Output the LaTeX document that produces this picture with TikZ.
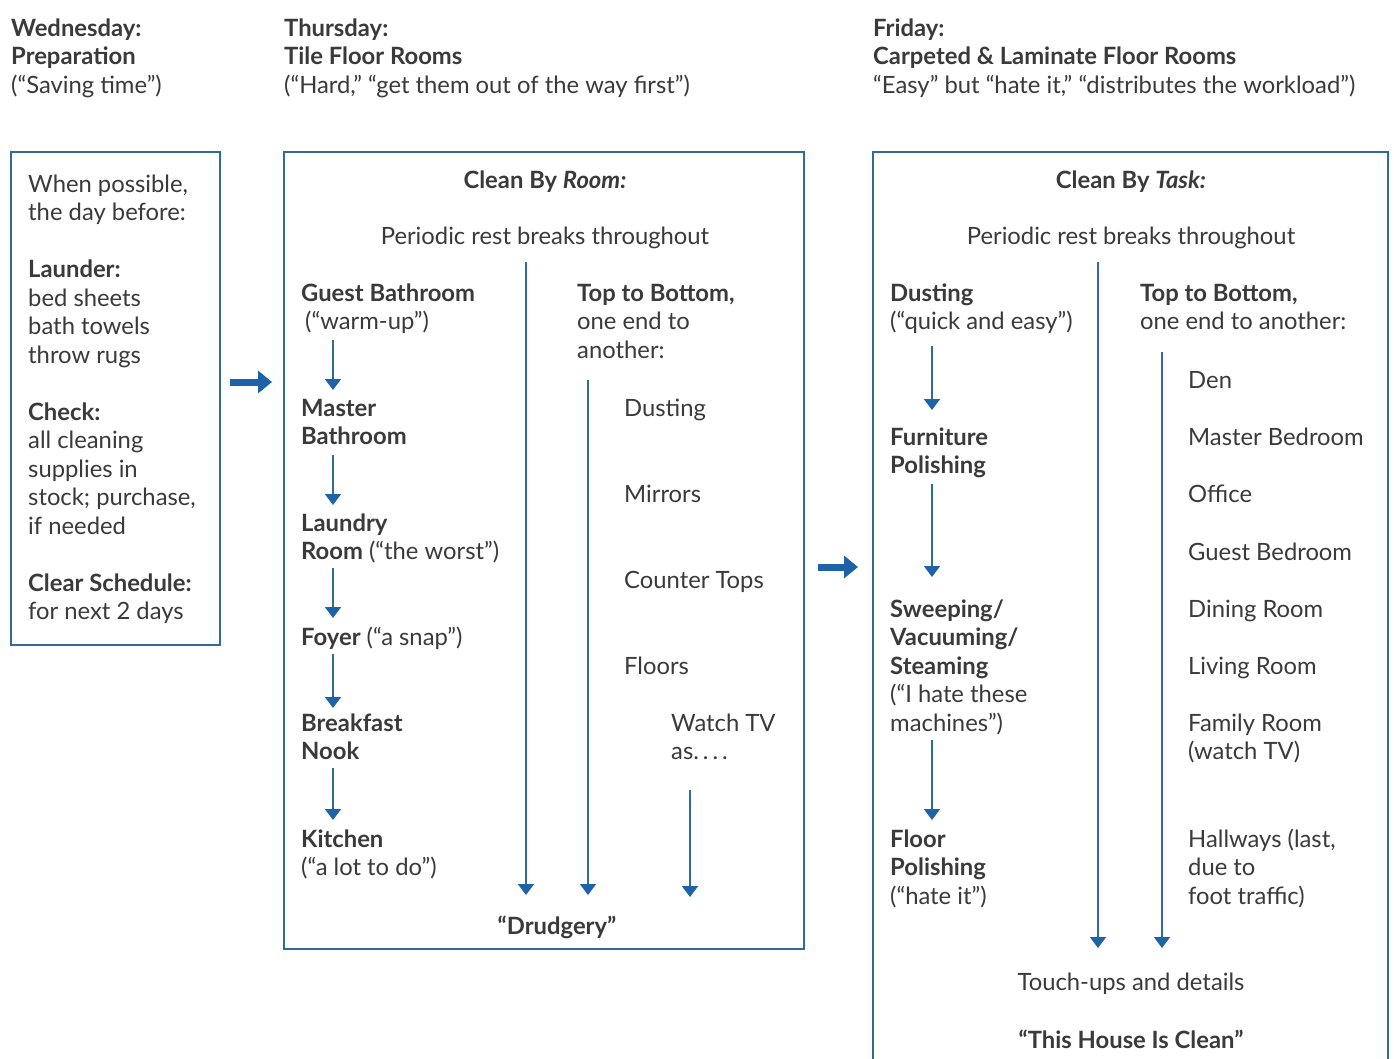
\documentclass[tikz,border=0pt]{standalone}
\usepackage{fontspec}
\setmainfont{Lato}
\usetikzlibrary{arrows.meta}
\definecolor{ink}{HTML}{3A3A3A}
\definecolor{frame}{HTML}{2F6C97}
\definecolor{flow}{HTML}{1E62A8}
\newcommand{\bodyfont}{\fontsize{23.8}{28.5}\selectfont}
% stacked lines whose baseline is the first line
\newcommand{\stack}[1]{\begin{tabular}[t]{@{}l@{}}#1\end{tabular}}
\tikzset{
  txt/.style={anchor=base west, inner sep=0pt, font=\bodyfont, text=ink},
  ctr/.style={anchor=base, inner sep=0pt, align=center, font=\bodyfont, text=ink},
  panel/.style={draw=frame, line width=1.8pt},
  flowline/.style={draw=frame, line width=1.8pt, -{Triangle[width=16pt,length=11pt,color=flow]}},
  bigarrow/.style={draw=flow, line width=7pt, -{Triangle[width=22pt,length=14pt]}},
}
\begin{document}
\begin{tikzpicture}[x=1pt,y=-1pt]
\useasboundingbox[fill=white] (0,0) rectangle (1394,1058);
\clip (0,0) rectangle (1394,1058);

% column headings
\node[txt] (hwed) at (11,36) {\stack{\textbf{Wednesday:}\\\textbf{Preparation}\\(“Saving time”)}};
\node[txt] (hthu) at (284,36) {\stack{\textbf{Thursday:}\\\textbf{Tile Floor Rooms}\\(“Hard,” “get them out of the way first”)}};
\node[txt] (hfri) at (873,36) {\stack{\textbf{Friday:}\\\textbf{Carpeted \& Laminate Floor Rooms}\\“Easy” but “hate it,” “distributes the workload”)}};

% panels
\path[panel] (11,152) rectangle (220,645);
\path[panel] (284,152) rectangle (804,949);
\path[panel] (873,152) rectangle (1388,1080);
\coordinate (wedE) at (220,382);
\coordinate (thuW) at (284,382);
\coordinate (thuE) at (804,567);
\coordinate (friW) at (873,567);

% Wednesday
\node[txt] (wedtext) at (28,192) {\stack{When possible,\\the day before:\\ \\
\textbf{Launder:}\\bed sheets\\bath towels\\throw rugs\\ \\
\textbf{Check:}\\all cleaning\\supplies in\\stock; purchase,\\if needed\\ \\
\textbf{Clear Schedule:}\\for next 2 days}};

\draw[bigarrow] ([xshift=10pt]wedE) -- ([xshift=-12pt]thuW);
\draw[bigarrow] ([xshift=14pt]thuE) -- ([xshift=-15pt]friW);

% Thursday: clean by room
\node[ctr] (thutitle) at (545,188) {\textbf{Clean By \textit{Room:}}};
\node[ctr] (thurest) at (545,244) {Periodic rest breaks throughout};
\node[txt] (gbath) at (301,301) {\stack{\textbf{Guest Bathroom}\\\hspace{4pt}(“warm-up”)}};
\node[txt] (mbath) at (301,416) {\stack{\textbf{Master}\\\textbf{Bathroom}}};
\node[txt] (laund) at (301,531) {\stack{\textbf{Laundry}\\\textbf{Room} (“the worst”)}};
\node[txt] (foyer) at (301,645) {\textbf{Foyer} (“a snap”)};
\node[txt] (nook) at (301,731) {\stack{\textbf{Breakfast}\\\textbf{Nook}}};
\node[txt] (kitch) at (301,847) {\stack{\textbf{Kitchen}\\(“a lot to do”)}};
\node[txt] (thutop) at (577,301) {\stack{\textbf{Top to Bottom,}\\one end to\\another:}};
\node[txt] (tdust) at (624,416) {Dusting};
\node[txt] (tmirr) at (624,502) {Mirrors};
\node[txt] (tcount) at (624,588) {Counter Tops};
\node[txt] (tfloor) at (624,674) {Floors};
\node[txt] (ttv) at (671,731) {\stack{Watch TV\\as.\,.\,.\,.}};
\node[ctr] (drudge) at (557,934) {\textbf{“Drudgery”}};

\coordinate (r1a) at (333,340); \coordinate (r1b) at (333,390);
\coordinate (r2a) at (333,455); \coordinate (r2b) at (333,505);
\coordinate (r3a) at (333,568); \coordinate (r3b) at (333,618);
\coordinate (r4a) at (333,654); \coordinate (r4b) at (333,708);
\coordinate (r5a) at (333,768); \coordinate (r5b) at (333,820);
\coordinate (ra) at (526,262); \coordinate (rb) at (526,895);
\coordinate (sa) at (588,380); \coordinate (sb) at (588,895);
\coordinate (ta) at (690,790); \coordinate (tb) at (690,897);
\foreach \p in {r1,r2,r3,r4,r5,r,s,t} \draw[flowline] (\p a) -- (\p b);

% Friday: clean by task
\node[ctr] (frititle) at (1131,188) {\textbf{Clean By \textit{Task:}}};
\node[ctr] (frirest) at (1131,244) {Periodic rest breaks throughout};
\node[txt] (fdust) at (890,301) {\stack{\textbf{Dusting}\\(“quick and easy”)}};
\node[txt] (fpol) at (890,445) {\stack{\textbf{Furniture}\\\textbf{Polishing}}};
\node[txt] (fsweep) at (890,617) {\stack{\textbf{Sweeping/}\\\textbf{Vacuuming/}\\\textbf{Steaming}\\(“I hate these\\machines”)}};
\node[txt] (ffloor) at (890,847) {\stack{\textbf{Floor}\\\textbf{Polishing}\\(“hate it”)}};
\node[txt] (fritop) at (1140,301) {\stack{\textbf{Top to Bottom,}\\one end to another:}};
\node[txt] (den) at (1188,388) {Den};
\node[txt] (mbed) at (1188,445) {Master Bedroom};
\node[txt] (office) at (1188,502) {Office};
\node[txt] (gbed) at (1188,560) {Guest Bedroom};
\node[txt] (dining) at (1188,617) {Dining Room};
\node[txt] (living) at (1188,674) {Living Room};
\node[txt] (family) at (1188,731) {\stack{Family Room\\(watch TV)}};
\node[txt] (hall) at (1188,847) {\stack{Hallways (last,\\due to\\foot traffic)}};
\node[ctr] (touch) at (1131,990) {Touch-ups and details};
\node[ctr] (clean) at (1131,1048) {\textbf{“This House Is Clean”}};

\coordinate (f1a) at (932,346); \coordinate (f1b) at (932,410);
\coordinate (f2a) at (932,484); \coordinate (f2b) at (932,577);
\coordinate (f3a) at (932,740); \coordinate (f3b) at (932,820);
\coordinate (ua) at (1098,262); \coordinate (ub) at (1098,948);
\coordinate (va) at (1162,352); \coordinate (vb) at (1162,948);
\foreach \p in {f1,f2,f3,u,v} \draw[flowline] (\p a) -- (\p b);
\end{tikzpicture}
\end{document}
